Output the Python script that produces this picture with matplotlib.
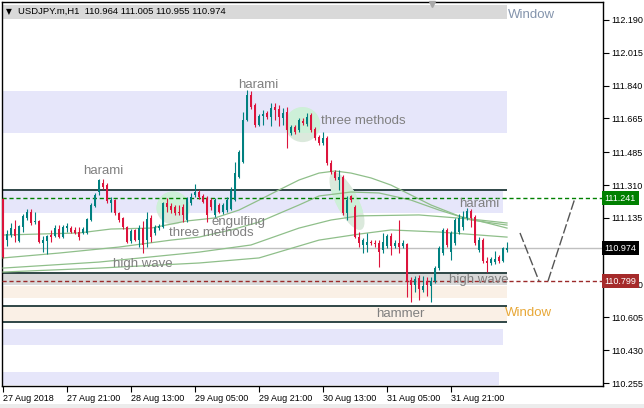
import matplotlib
matplotlib.use('Agg')
import matplotlib.pyplot as plt
from matplotlib.patches import Ellipse, Rectangle
from matplotlib.transforms import IdentityTransform, blended_transform_factory
import numpy as np

plt.rcParams['font.family'] = ['Liberation Sans', 'DejaVu Sans']

# ---------------- data (USDJPY.m, H1) ----------------
opens = [111.236, 111.017, 111.044, 111.076, 111.012, 111.087, 111.135, 111.167, 111.113, 111.119,
         111.001, 111.012, 111.044, 111.039, 111.076, 111.033, 111.081, 111.081, 111.071, 111.060,
         111.055, 111.055, 111.124, 111.199, 111.273, 111.321, 111.310, 111.214, 111.230, 111.161,
         111.135, 111.087, 111.012, 111.071, 111.017, 111.081, 111.017, 111.135, 111.055, 111.081,
         111.087, 111.214, 111.199, 111.193, 111.167, 111.193, 111.124, 111.214, 111.257, 111.273,
         111.252, 111.241, 111.230, 111.151, 111.204, 111.167, 111.177, 111.182, 111.230, 111.353,
         111.433, 111.656, 111.789, 111.736, 111.630, 111.678, 111.694, 111.672, 111.726, 111.715,
         111.667, 111.699, 111.587, 111.619, 111.603, 111.651, 111.635, 111.683, 111.608, 111.566,
         111.534, 111.560, 111.427, 111.380, 111.337, 111.353, 111.161, 111.252, 111.193, 111.033,
         110.991, 110.991, 111.006, 111.001, 111.001, 110.964, 110.985, 111.039, 110.985, 111.001,
         110.985, 110.996, 110.804, 110.778, 110.815, 110.751, 110.799, 110.772, 110.799, 110.868,
         110.948, 111.071, 110.953, 111.001, 111.060, 111.087, 111.135, 111.172, 111.140, 110.964,
         111.017, 110.906, 110.895, 110.900, 110.927, 110.906, 110.964]
highs = [111.241, 111.071, 111.108, 111.124, 111.097, 111.156, 111.182, 111.182, 111.167, 111.124,
         111.039, 111.044, 111.071, 111.097, 111.097, 111.097, 111.108, 111.092, 111.087, 111.087,
         111.087, 111.135, 111.214, 111.268, 111.342, 111.342, 111.321, 111.246, 111.236, 111.167,
         111.140, 111.092, 111.076, 111.076, 111.097, 111.119, 111.167, 111.151, 111.097, 111.103,
         111.220, 111.241, 111.214, 111.204, 111.204, 111.209, 111.246, 111.268, 111.316, 111.284,
         111.262, 111.252, 111.241, 111.241, 111.214, 111.214, 111.246, 111.300, 111.433, 111.497,
         111.699, 111.816, 111.811, 111.747, 111.688, 111.710, 111.704, 111.747, 111.747, 111.736,
         111.720, 111.726, 111.630, 111.630, 111.667, 111.667, 111.694, 111.694, 111.619, 111.577,
         111.592, 111.571, 111.443, 111.390, 111.390, 111.364, 111.252, 111.257, 111.204, 111.060,
         111.028, 111.055, 111.017, 111.017, 111.017, 111.055, 111.049, 111.055, 111.017, 111.124,
         111.017, 111.001, 110.820, 110.826, 110.831, 110.826, 110.820, 110.820, 110.879, 110.985,
         111.081, 111.081, 111.065, 111.135, 111.156, 111.172, 111.188, 111.182, 111.151, 111.033,
         111.028, 110.927, 110.927, 110.959, 110.938, 110.980, 111.005]
lows = [110.922, 110.985, 111.033, 111.006, 111.006, 111.060, 111.124, 111.097, 111.103, 111.001,
        110.953, 110.943, 111.006, 111.033, 111.028, 111.028, 111.060, 111.055, 111.049, 111.017,
        111.049, 111.049, 111.119, 111.193, 111.257, 111.289, 111.214, 111.167, 111.151, 111.113,
        111.076, 111.001, 111.001, 111.012, 110.980, 110.948, 110.980, 111.006, 111.044, 111.071,
        111.081, 111.167, 111.161, 111.151, 111.151, 111.113, 111.113, 111.204, 111.246, 111.236,
        111.214, 111.113, 111.177, 111.140, 111.161, 111.156, 111.167, 111.177, 111.225, 111.348,
        111.427, 111.651, 111.715, 111.619, 111.625, 111.630, 111.662, 111.625, 111.656, 111.625,
        111.630, 111.507, 111.577, 111.582, 111.592, 111.630, 111.625, 111.592, 111.550, 111.523,
        111.523, 111.417, 111.369, 111.337, 111.284, 111.151, 111.124, 111.220, 111.028, 110.980,
        110.948, 110.953, 110.991, 110.980, 110.874, 110.948, 110.975, 110.938, 110.975, 110.948,
        110.975, 110.714, 110.687, 110.740, 110.698, 110.740, 110.719, 110.687, 110.788, 110.858,
        110.938, 110.980, 110.911, 110.991, 111.049, 111.071, 111.124, 111.087, 110.991, 110.953,
        110.895, 110.847, 110.884, 110.890, 110.895, 110.900, 110.955]
closes = [110.927, 111.049, 111.081, 111.039, 111.092, 111.146, 111.167, 111.108, 111.119, 111.006,
          111.017, 111.039, 111.033, 111.081, 111.033, 111.087, 111.092, 111.060, 111.055, 111.033,
          111.076, 111.129, 111.204, 111.257, 111.337, 111.300, 111.225, 111.230, 111.161, 111.124,
          111.087, 111.006, 111.065, 111.017, 111.081, 110.991, 111.129, 111.033, 111.087, 111.092,
          111.214, 111.193, 111.177, 111.161, 111.161, 111.151, 111.236, 111.246, 111.273, 111.246,
          111.220, 111.151, 111.193, 111.230, 111.167, 111.204, 111.230, 111.284, 111.374, 111.486,
          111.656, 111.789, 111.726, 111.630, 111.678, 111.688, 111.672, 111.720, 111.710, 111.672,
          111.694, 111.603, 111.619, 111.592, 111.656, 111.640, 111.672, 111.603, 111.560, 111.534,
          111.560, 111.427, 111.380, 111.348, 111.353, 111.161, 111.230, 111.230, 111.033, 111.001,
          111.017, 111.006, 111.001, 110.996, 110.953, 111.006, 111.039, 110.985, 111.001, 110.980,
          111.001, 110.799, 110.778, 110.810, 110.756, 110.772, 110.778, 110.799, 110.868, 110.975,
          111.071, 110.991, 111.055, 111.124, 111.135, 111.140, 111.172, 111.135, 111.001, 111.017,
          110.906, 110.895, 110.916, 110.916, 110.906, 110.975, 110.974]

# moving averages (read at sample bars)
ma1_idx = [0, 19, 27, 37, 46, 53, 59, 64, 69, 74, 79, 83, 87, 92, 97, 102, 107, 114, 122, 126]
ma1_val = [111.044, 111.055, 111.076, 111.081, 111.119, 111.135, 111.177, 111.230, 111.284, 111.337,
           111.374, 111.385, 111.374, 111.348, 111.310, 111.257, 111.204, 111.145, 111.103, 111.081]
ma2_idx = [0, 14, 29, 42, 49, 57, 64, 74, 79, 87, 94, 102, 109, 117, 126]
ma2_val = [110.922, 110.948, 110.980, 111.017, 111.033, 111.071, 111.113, 111.204, 111.252, 111.273,
           111.268, 111.230, 111.177, 111.124, 111.097]
ma3_idx = [0, 24, 49, 62, 74, 82, 89, 104, 117, 126]
ma3_val = [110.868, 110.900, 110.953, 110.991, 111.081, 111.124, 111.146, 111.151, 111.129, 111.108]
ma4_idx = [0, 24, 49, 64, 79, 89, 97, 109, 126]
ma4_val = [110.847, 110.868, 110.895, 110.922, 111.017, 111.049, 111.071, 111.060, 111.033]

# zones: (start bar, end bar, low, high, colour)
zone_start = [0, 0, 0, 0, 0, 0, 0, 0]
zone_end = [126, 126, 125, 126, 126, 126, 125, 124]
zone_low = [112.194, 111.587, 111.161, 110.778, 110.709, 110.581, 110.458, 110.245]
zone_high = [112.269, 111.811, 111.284, 110.842, 110.772, 110.666, 110.543, 110.314]
zone_kind = ['grey', 'lav', 'lav', 'grey', 'beige', 'beige', 'lav', 'lav']
level_lines = [111.284, 110.842, 110.666, 110.581]

resistance = 111.241
support = 110.799
last_price = 110.974

zig1_x = [129.25, 134.0]
zig1_y = [111.055, 110.799]
zig2_x = [136.25, 143.0]
zig2_y = [110.799, 111.241]

price_ticks = [112.190, 112.015, 111.840, 111.665, 111.485, 111.310, 111.135, 110.960,
               110.780, 110.605, 110.430, 110.255]
hidden_ticks = [110.960]   # covered by the last-price box in the reference
time_tick_idx = [0, 16, 32, 48, 64, 80, 96, 112]
time_labels = ['27 Aug 2018', '27 Aug 21:00', '28 Aug 13:00', '29 Aug 05:00',
               '29 Aug 21:00', '30 Aug 13:00', '31 Aug 05:00', '31 Aug 21:00']

# ---------------- figure ----------------
W, H = 644, 408
fig = plt.figure(figsize=(W / 100, H / 100), dpi=100)
ax = fig.add_axes([2 / W, 22 / H, 601 / W, 384 / H])
ax.set_xlim(-0.25, 150)
ax.set_ylim(110.240, 112.285)

zone_colors = {'grey': '#d9d9d9', 'lav': '#e6e6fa', 'beige': '#faf0e6'}
lav_patches = []
for s, e, lo, hi, k in zip(zone_start, zone_end, zone_low, zone_high, zone_kind):
    r = Rectangle((s - 0.25, lo), e - s + 0.25, hi - lo, facecolor=zone_colors[k],
                  edgecolor='none', zorder=1)
    ax.add_patch(r)
    if k == 'lav':
        lav_patches.append(r)
for lv in level_lines:
    ax.hlines(lv, -0.25, 126, colors='#2f4646', lw=1.4, zorder=1.5)

# pattern highlight shapes (pixel-shaped ellipses)
def shape(ci, cp, w, h, ang):
    cx, cy = ax.transData.transform((ci, cp))
    base = Ellipse((cx, cy), w, h, angle=ang, transform=IdentityTransform(),
                   facecolor='#dbe9dc', edgecolor='none', zorder=2)
    ax.add_patch(base)
    for lp in lav_patches:
        top = Ellipse((cx, cy), w, h, angle=ang, transform=IdentityTransform(),
                      facecolor='#cdf0d8', edgecolor='none', zorder=2.1)
        ax.add_patch(top)
        top.set_clip_path(lp)

shape(42.5, 111.188, 33, 33, 0)
shape(74.9, 111.632, 35, 35, 0)
shape(86.0, 111.225, 64, 22, -63)

# moving averages
for xi, yv in [(ma1_idx, ma1_val), (ma2_idx, ma2_val), (ma3_idx, ma3_val), (ma4_idx, ma4_val)]:
    ax.plot(xi, yv, color='#8fbf8a', lw=0.9, zorder=3)

# price lines
ax.axhline(last_price, color='#c0c0c0', lw=1.0, zorder=2.5)
ax.axhline(resistance, color='#008000', lw=1.0, ls=(0, (3, 2)), zorder=3.5)
ax.axhline(support, color='#9b2a2a', lw=1.0, ls=(0, (3, 2)), zorder=3.5)

# candles
idx = np.arange(len(opens))
o = np.array(opens); c = np.array(closes); hi = np.array(highs); lo = np.array(lows)
cols = np.where(c >= o, '#008080', '#dc143c')
ax.vlines(idx, lo, hi, colors=cols, lw=0.8, zorder=4)
bottoms = np.minimum(o, c)
heights = np.maximum(np.abs(c - o), 0.006)
ax.bar(idx, heights, bottom=bottoms, width=0.72, color=cols, linewidth=0, zorder=5)

# projection zigzag
ax.plot(zig1_x, zig1_y, color='#555555', lw=1.0, ls=(0, (7, 2)), zorder=4)
ax.plot(zig2_x, zig2_y, color='#555555', lw=1.0, ls=(0, (7, 2)), zorder=4)

# pattern labels
lab = dict(color='#808080', fontsize=9.5, ha='center', va='center', zorder=6)
ax.text(25, 111.385, 'harami', **lab)
ax.text(63.75, 111.843, 'harami', **lab)
ax.text(119, 111.209, 'harami', **lab)
ax.text(90, 111.651, 'three methods', **lab)
ax.text(52, 111.055, 'three methods', **lab)
ax.text(59, 111.113, 'engulfing', **lab)
ax.text(35, 110.889, 'high wave', **lab)
ax.text(119, 110.804, 'high wave', **lab)
ax.text(99.25, 110.623, 'hammer', **lab)
ax.text(126.3, 112.215, 'Window', color='#8494ac', fontsize=9.5, ha='left', va='center', zorder=6)
ax.text(125.6, 110.629, 'Window', color='#e8a838', fontsize=9.5, ha='left', va='center', zorder=6)

# header
fig.text(6 / W, 1 - 11.5 / H, '\u25bc', fontsize=5.5, color='black', va='center', ha='left',
         family=['DejaVu Sans'])
fig.text(18 / W, 1 - 11.5 / H, 'USDJPY.m,H1  110.964 111.005 110.955 110.974', fontsize=6.8,
         color='black', va='center', ha='left')
ax.plot([0.7155], [0.995], marker='v', color='#a8a8a8', markersize=5, transform=ax.transAxes,
        clip_on=False, zorder=7)

# axes styling
for sp in ax.spines.values():
    sp.set_color('black'); sp.set_linewidth(1.0)
ax.yaxis.tick_right()
ax.set_yticks(price_ticks)
ax.set_yticklabels(['' if v in hidden_ticks else '%.3f' % v for v in price_ticks])
ax.tick_params(axis='y', direction='out', length=4, width=0.8, labelsize=6.5, pad=2, colors='black')
ax.set_xticks(time_tick_idx)
ax.set_xticklabels(time_labels)
for t in ax.get_xticklabels():
    t.set_ha('left')
ax.tick_params(axis='x', direction='out', length=4, width=0.8, labelsize=6.5, pad=1.5)

# price boxes on right axis
bt = blended_transform_factory(ax.transAxes, ax.transData)
for val, fc in [(resistance, '#008000'), (last_price, '#000000'), (support, '#a52a2a')]:
    ax.text(1.003, val, '%.3f' % val, transform=bt, color='white', fontsize=6.5, va='center',
            ha='left', zorder=10, clip_on=False,
            bbox=dict(boxstyle='square,pad=0.3', fc=fc, ec='none'))

# bottom strip
fig.patches.append(Rectangle((0, 0), 1, 4 / H, transform=fig.transFigure, facecolor='#ececec',
                             edgecolor='none'))

fig.savefig('out.png', dpi=100)
